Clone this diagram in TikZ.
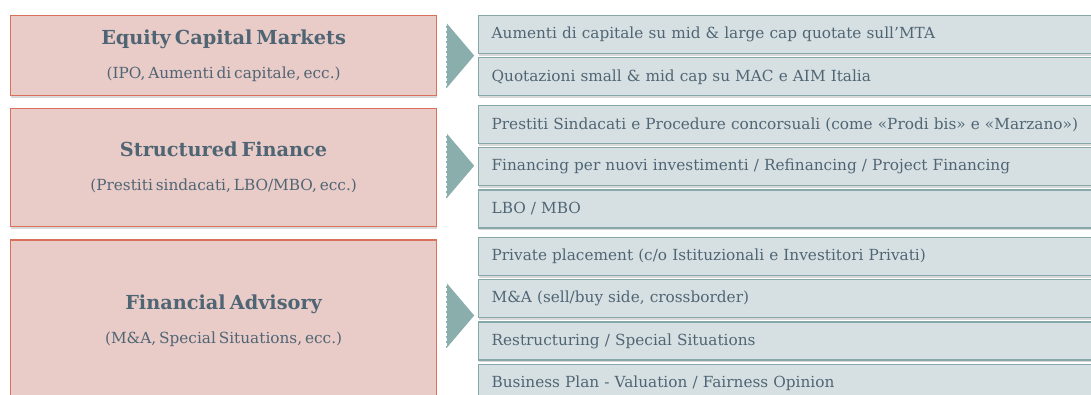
\documentclass[tikz,border=0pt]{standalone}
\usepackage{fontspec}
\setmainfont{DejaVu Serif}
\newfontfamily\itemfont[WordSpace=0.6, Ligatures=TeX]{DejaVu Serif}
\usepackage{tikz}
\usetikzlibrary{positioning, calc, shadows}
\definecolor{roseFill}{RGB}{233,203,200}
\definecolor{roseLine}{RGB}{216,112,92}
\definecolor{mistFill}{RGB}{214,224,226}
\definecolor{mistLine}{RGB}{134,168,168}
\definecolor{pointer}{RGB}{138,174,172}
\definecolor{slate}{RGB}{80,101,116}
\tikzset{
  area/.style = {draw=roseLine, fill=roseFill, line width=1.2pt,
    minimum width=426pt, inner sep=0pt, align=center, text=slate,
    font=\fontsize{15.3}{20}\selectfont,
    drop shadow={shadow xshift=0.5pt, shadow yshift=-2pt, opacity=0.3}},
  item/.style = {draw=mistLine, fill=mistFill, line width=1.2pt,
    minimum height=38pt, text width=700pt, inner xsep=13pt, inner ysep=0pt,
    align=left, text=slate, font=\itemfont\fontsize{15.3}{18}\selectfont,
    drop shadow={shadow xshift=0.5pt, shadow yshift=-2pt, opacity=0.3}}
}
\newcommand{\areatext}[2]{{\fontsize{19.3}{20}\selectfont\bfseries #1}\\[14pt]#2}
\begin{document}
\begin{tikzpicture}[x=1pt, y=-1pt]
\useasboundingbox (0,0) rectangle (1091,394);
\clip (0,0) rectangle (1091,394);

% aree
\node [area, minimum height=80pt, anchor=north west] (ecm) at (10,15)
  {\areatext{Equity Capital Markets}{(IPO, Aumenti di capitale, ecc.)}};
\node [area, minimum height=118pt, below=12pt of ecm] (sf)
  {\areatext{Structured Finance}{(Prestiti sindacati, LBO/MBO, ecc.)}};
\node [area, minimum height=161pt, below=12pt of sf] (fa)
  {\areatext{Financial Advisory}{(M\&A, Special Situations, ecc.)}};

% servizi
\node [item, anchor=north west] (ecm1) at (478,15)
  {Aumenti di capitale su mid \& large cap quotate sull’MTA};
\node [item, below=3pt of ecm1] (ecm2)
  {Quotazioni small \& mid cap su MAC e AIM Italia};

\node [item, anchor=north west] (sf1) at (478,105)
  {Prestiti Sindacati e Procedure concorsuali (come «Prodi bis» e «Marzano»)};
\node [item, below=3pt of sf1] (sf2)
  {Financing per nuovi investimenti / Refinancing / Project Financing};
\node [item, below=3pt of sf2] (sf3) {LBO / MBO};

\node [item, anchor=north west] (fa1) at (478,237)
  {Private placement (c/o Istituzionali e Investitori Privati)};
\node [item, below=3pt of fa1] (fa2) {M\&A (sell/buy side, crossborder)};
\node [item, below=3pt of fa2] (fa3) {Restructuring / Special Situations};
\node [item, below=3pt of fa3] (fa4) {Business Plan - Valuation / Fairness Opinion};

% frecce
\foreach \a/\d in {ecm/0pt, sf/2pt, fa/5pt} {
  \coordinate (\a top) at ($(\a.east)+(9pt,33pt+\d)$);
  \coordinate (\a bot) at ($(\a.east)+(9pt,-33pt+\d)$);
  \coordinate (\a tip) at ($(\a.east)+(37pt,\d)$);
  \fill [pointer] (\a top) -- (\a tip) -- (\a bot) -- cycle;
  \draw [white, line width=1pt, dash pattern=on 3pt off 2pt] (\a top) -- (\a bot);
}
\end{tikzpicture}
\end{document}
